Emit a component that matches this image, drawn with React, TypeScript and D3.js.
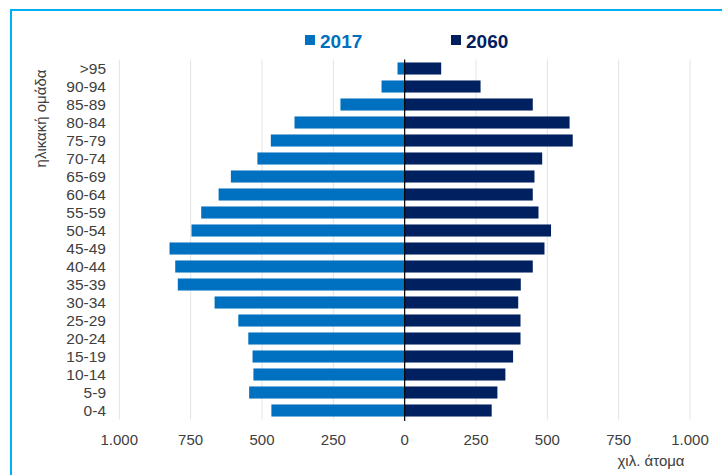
import React from "react";
import * as d3 from "d3";

const categories = [">95","90-94","85-89","80-84","75-79","70-74","65-69","60-64","55-59","50-54","45-49","40-44","35-39","30-34","25-29","20-24","15-19","10-14","5-9","0-4"];
const values2017 = [25,81,225,386,469,516,609,652,713,747,824,804,795,666,583,548,533,530,545,467];
const values2060 = [128,266,449,578,589,482,455,449,469,513,490,449,407,398,406,406,380,353,325,305];
const tickValues = [-1000,-750,-500,-250,0,250,500,750,1000];
const seriesNames = ["2017","2060"];
const colors = ["#0070C0","#002060"];

const W = 722, H = 475;
const fmt = (v: number) => {
  const a = Math.abs(v);
  return a >= 1000 ? d3.format(",")(a).replace(/,/g, ".") : String(a);
};

export default function App() {
  const x = d3.scaleLinear().domain([-1000, 1000]).range([119.3, 690]);
  const y = d3.scaleBand().domain(categories).range([59.5, 419.5]).paddingInner(0.33).paddingOuter(0.165);
  const font = "'Liberation Sans', Arial, sans-serif";
  return (
    <svg width={W} height={H} style={{ position: "absolute", left: 0, top: 0, background: "#fff" }} fontFamily={font}>
      <rect x={11} y={10} width={W + 20} height={H + 20} fill="none" stroke="#00B0F0" strokeWidth={2} />
      {tickValues.filter(t => t !== 0).map(t => (
        <line key={"g" + t} x1={x(t)} x2={x(t)} y1={59.5} y2={419.5} stroke="#E3E3E3" strokeWidth={1} />
      ))}
      {categories.map((c, i) => (
        <g key={c}>
          <rect x={x(-values2017[i])} y={y(c)} width={x(0) - x(-values2017[i])} height={y.bandwidth()} fill={colors[0]} />
          <rect x={x(0)} y={y(c)} width={x(values2060[i]) - x(0)} height={y.bandwidth()} fill={colors[1]} />
          <text x={106} y={(y(c) as number) + y.bandwidth() / 2} dy="0.35em" textAnchor="end" fontSize={15.5} fill="#404040">{c}</text>
        </g>
      ))}
      <line x1={x(0)} x2={x(0)} y1={59.5} y2={421} stroke="#000" strokeWidth={1.2} />
      {tickValues.map(t => (
        <text key={"t" + t} x={x(t)} y={445} textAnchor="middle" fontSize={15} fill="#404040">{fmt(t)}</text>
      ))}
      <text x={651} y={466} textAnchor="middle" fontSize={15} fill="#404040">χιλ. άτομα</text>
      <text transform="translate(46,118.5) rotate(-90)" textAnchor="middle" fontSize={15} fill="#404040">ηλικακή ομάδα</text>
      {seriesNames.map((s, i) => (
        <g key={s} transform={`translate(${305 + i * 146},0)`}>
          <rect x={0} y={35} width={10} height={10} fill={colors[i]} />
          <text x={15} y={47.5} fontSize={19} fontWeight="bold" fill={colors[i]}>{s}</text>
        </g>
      ))}
    </svg>
  );
}
